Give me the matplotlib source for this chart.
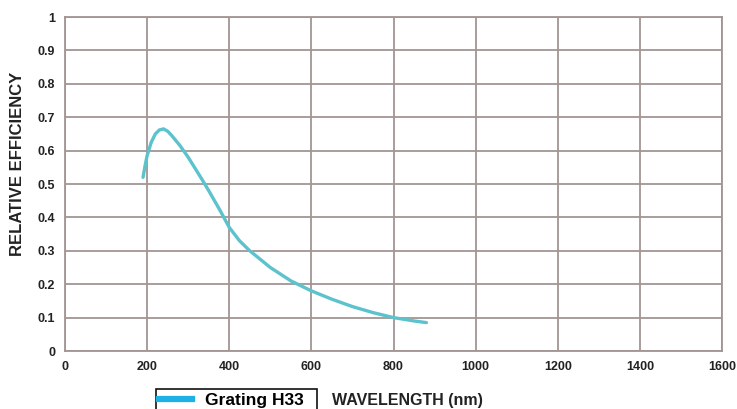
import matplotlib
matplotlib.use("Agg")
import matplotlib.pyplot as plt
from matplotlib.lines import Line2D

# Grating H33 efficiency curve
wavelength = [190, 195, 200, 210, 220, 230, 240, 250, 260, 280, 300, 333, 350,
              378, 400, 425, 450, 500, 550, 600, 650, 700, 750, 800, 850, 880]
efficiency = [0.52, 0.555, 0.585, 0.625, 0.65, 0.662, 0.665, 0.658, 0.645, 0.615,
              0.58, 0.515, 0.48, 0.42, 0.37, 0.33, 0.30, 0.25, 0.21, 0.18, 0.155,
              0.133, 0.115, 0.10, 0.09, 0.085]

x_ticks = [0, 200, 400, 600, 800, 1000, 1200, 1400, 1600]
y_ticks = [0, 0.1, 0.2, 0.3, 0.4, 0.5, 0.6, 0.7, 0.8, 0.9, 1]
y_labels = ["0", "0.1", "0.2", "0.3", "0.4", "0.5", "0.6", "0.7", "0.8", "0.9", "1"]

plt.rcParams['font.family'] = ['Liberation Sans', 'DejaVu Sans']

fig = plt.figure(figsize=(7.37, 4.09), dpi=100)
ax = fig.add_axes([0.0882, 0.1418, 0.8915, 0.8166])

grid_col = '#a39593'
ax.plot(wavelength, efficiency, color='#5cc3cc', linewidth=2.4, zorder=3,
        solid_joinstyle='round', solid_capstyle='round')

ax.set_xlim(0, 1600)
ax.set_ylim(0, 1)
ax.set_xticks(x_ticks)
ax.set_yticks(y_ticks)
ax.set_yticklabels(y_labels)
ax.grid(True, color=grid_col, linewidth=1.3)
for s in ax.spines.values():
    s.set_color(grid_col)
    s.set_linewidth(1.3)
ax.tick_params(length=0, pad=7, labelsize=9, colors='#222222')
for lab in ax.get_xticklabels() + ax.get_yticklabels():
    lab.set_fontweight('bold')

fig.text(0.024, 0.599, 'RELATIVE EFFICIENCY', rotation=90, ha='center', va='center',
         fontsize=12, fontweight='bold', color='#222222')
fig.text(332 / 737, 1 - 400 / 409, 'WAVELENGTH (nm)', ha='left', va='center',
         fontsize=11.5, fontweight='bold', color='#222222')

handle = Line2D([], [], color='#1eb0e6', linewidth=4.5)
leg = fig.legend([handle], ['Grating H33  '], loc='upper left',
                 bbox_to_anchor=(156 / 737, 1 - 389 / 409), borderaxespad=0,
                 fancybox=False, framealpha=1, edgecolor='#111111',
                 handlelength=1.9, borderpad=0.2, handletextpad=0.75,
                 prop={'weight': 'bold', 'size': 12.5})
leg.get_frame().set_linewidth(1.2)

fig.savefig('out.png', dpi=100)
